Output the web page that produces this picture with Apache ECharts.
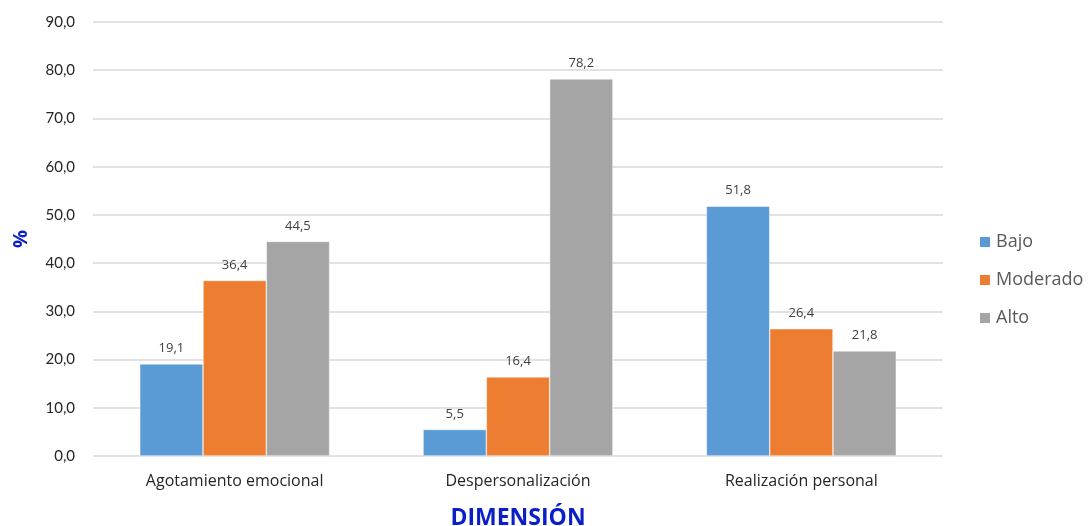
<!DOCTYPE html>
<html>
<head>
<meta charset="utf-8">
<script src="https://cdn.jsdelivr.net/npm/echarts@6/dist/echarts.min.js"></script>
<style>
  html, body { margin: 0; padding: 0; background: #fff; }
  #chart { width: 1088px; height: 526px; }
</style>
</head>
<body>
<div id="chart"></div>
<script>
// Dimensions of the scale and percentage per level
const categories = ['Agotamiento emocional', 'Despersonalización', 'Realización personal'];
const bajo = [19.1, 5.5, 51.8];
const moderado = [36.4, 16.4, 26.4];
const alto = [44.5, 78.2, 21.8];
const seriesNames = ['Bajo', 'Moderado', 'Alto'];
const colors = ['#5B9BD5', '#ED7D31', '#A5A5A5'];

const FONT = 'Lato, "Open Sans", sans-serif';
const WIDE = '"Open Sans", Lato, sans-serif';
const fmt = v => v.toFixed(1).replace('.', ',');

function makeSeries(name, data, color) {
  return {
    name: name,
    type: 'bar',
    data: data,
    barGap: '0%',
    barCategoryGap: '33%',
    itemStyle: { color: color, borderColor: '#ffffff', borderWidth: 0.5 },
    label: {
      show: true,
      position: 'top',
      distance: 9,
      formatter: p => fmt(p.value),
      color: '#404040',
      fontFamily: WIDE,
      fontSize: 13
    }
  };
}

const chart = echarts.init(document.getElementById('chart'));
chart.setOption({
  animation: false,
  backgroundColor: '#ffffff',
  grid: { left: 93, right: 145, top: 22, bottom: 70, containLabel: false, outerBoundsMode: 'none' },
  legend: {
    orient: 'vertical',
    left: 973,
    top: 228,
    itemWidth: 12,
    itemHeight: 12,
    itemGap: 20,
    icon: 'rect',
    textStyle: { color: '#595959', fontFamily: WIDE, fontSize: 18 },
    data: seriesNames
  },
  xAxis: {
    type: 'category',
    data: categories,
    name: 'DIMENSIÓN',
    nameLocation: 'middle',
    nameGap: 51,
    nameTextStyle: { color: '#0B1FC9', fontWeight: 'bold', fontSize: 23, fontFamily: WIDE },
    axisLine: { show: false },
    axisTick: { show: false },
    axisLabel: { color: '#262626', fontFamily: WIDE, fontSize: 16, margin: 17 }
  },
  yAxis: {
    type: 'value',
    min: 0,
    max: 90,
    interval: 10,
    name: '%',
    nameLocation: 'middle',
    nameRotate: 90,
    nameGap: 62,
    nameTextStyle: { color: '#0B1FC9', fontWeight: 'bold', fontSize: 20, fontFamily: WIDE },
    axisLabel: { formatter: v => fmt(v), color: '#262626', fontFamily: FONT, fontSize: 15, margin: 18 },
    axisLine: { show: false },
    axisTick: { show: false },
    splitLine: { lineStyle: { color: '#D9D9D9', width: 1.5 } }
  },
  series: [
    makeSeries(seriesNames[0], bajo, colors[0]),
    makeSeries(seriesNames[1], moderado, colors[1]),
    makeSeries(seriesNames[2], alto, colors[2])
  ]
});
</script>
</body>
</html>
